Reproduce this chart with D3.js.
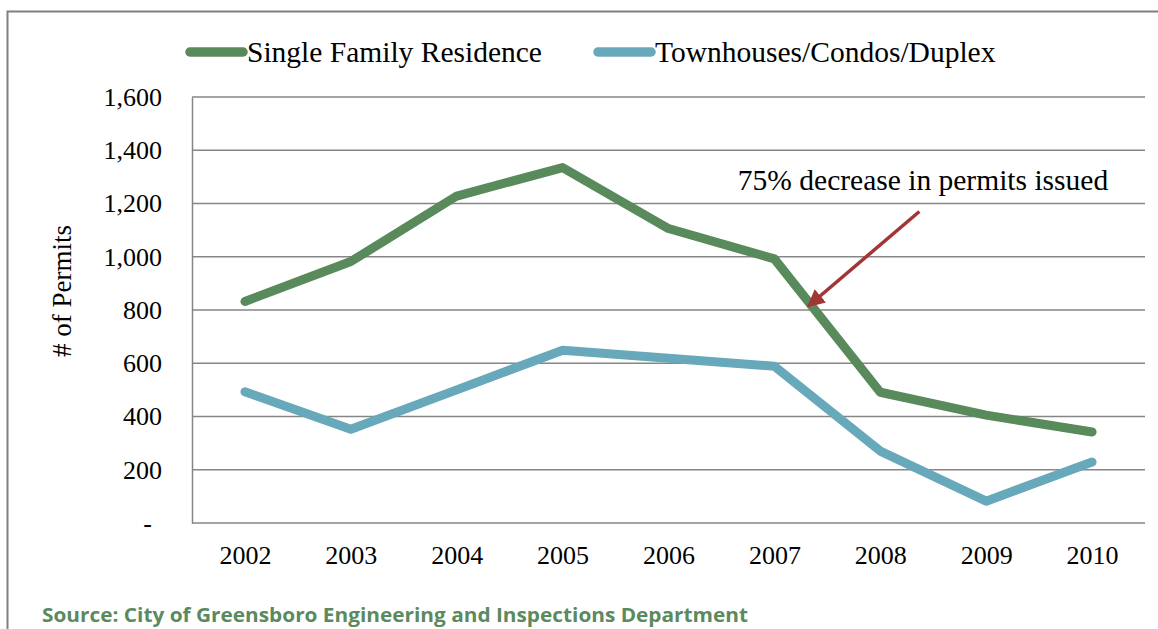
<!DOCTYPE html>
<html><head><meta charset="utf-8">
<script src="https://cdn.jsdelivr.net/npm/d3@7"></script>
<style>body{margin:0;background:#fff}svg{display:block}</style>
</head><body>
<svg id="c" width="1158" height="629"></svg>
<script>
const years = ["2002","2003","2004","2005","2006","2007","2008","2009","2010"];
const singleFamily = [832, 982, 1228, 1335, 1106, 992, 491, 405, 342];
const townhouses = [493, 352, 500, 649, 619, 589, 270, 82, 229];
const yTicks = [0, 200, 400, 600, 800, 1000, 1200, 1400, 1600];
const seriesNames = ["Single Family Residence", "Townhouses/Condos/Duplex"];
const colors = ["#588A5B", "#67A9BB"];

const svg = d3.select("#c");
const serif = "'Liberation Serif','Times New Roman',serif";
const L = 192, R = 1145, T = 97, B = 523;
const x = d3.scalePoint().domain(years).range([L, R]).padding(0.5);
const y = d3.scaleLinear().domain([0, 1600]).range([B, T]);

// outer frame
svg.append("rect").attr("x", 7.5).attr("y", 11.5).attr("width", 1170).attr("height", 640)
  .attr("fill", "none").attr("stroke", "#7f7f7f").attr("stroke-width", 2);

// gridlines
svg.append("g").selectAll("line").data(yTicks.filter(d => d > 0)).join("line")
  .attr("x1", L).attr("x2", R).attr("y1", d => y(d)).attr("y2", d => y(d))
  .attr("stroke", "#868686").attr("stroke-width", 1.5);

// axes
const yAxis = svg.append("g").attr("transform", `translate(${L},0)`)
  .call(d3.axisLeft(y).tickValues(yTicks).tickSize(0).tickPadding(30)
    .tickFormat(d => d === 0 ? "-" : d3.format(",")(d)));
yAxis.select(".domain").attr("stroke", "#868686").attr("stroke-width", 1.5);
yAxis.selectAll("text").attr("font-family", serif).attr("font-size", 26).attr("fill", "#000")
  .attr("dx", d => d === 0 ? -10 : 0);

const xAxis = svg.append("g").attr("transform", `translate(0,${B})`)
  .call(d3.axisBottom(x).tickSize(0).tickPadding(23));
xAxis.select(".domain").attr("d", `M${L},0H${R}`).attr("stroke", "#868686").attr("stroke-width", 1.5);
xAxis.selectAll("text").attr("font-family", serif).attr("font-size", 26).attr("fill", "#000");

// y title
svg.append("text").attr("transform", "translate(71,291) rotate(-90)")
  .attr("text-anchor", "middle").attr("font-family", serif).attr("font-size", 27)
  .text("# of Permits");

// lines
const line = d3.line().x((d, i) => x(years[i])).y(d => y(d));
[singleFamily, townhouses].forEach((s, k) => {
  svg.append("path").datum(s).attr("d", line).attr("fill", "none")
    .attr("stroke", colors[k]).attr("stroke-width", 9)
    .attr("stroke-linecap", "round").attr("stroke-linejoin", "round");
});

// legend
const legendX = [190, 598];
seriesNames.forEach((n, k) => {
  const g = svg.append("g").attr("transform", `translate(${legendX[k]},52)`);
  g.append("line").attr("x1", 0).attr("x2", 53).attr("stroke", colors[k])
    .attr("stroke-width", 9.5).attr("stroke-linecap", "round");
  g.append("text").attr("x", 57).attr("y", 10).attr("font-family", serif)
    .attr("font-size", 29.5).text(n);
});

// annotation
svg.append("defs").append("marker").attr("id", "ah").attr("viewBox", "0 0 10 10")
  .attr("refX", 9).attr("refY", 5).attr("markerWidth", 5).attr("markerHeight", 5)
  .attr("orient", "auto").append("path").attr("d", "M0,0L10,5L0,10z").attr("fill", "#A33537");
svg.append("line").attr("x1", x("2007") + 145).attr("y1", y(1170))
  .attr("x2", x("2007") + 34).attr("y2", y(815))
  .attr("stroke", "#A33537").attr("stroke-width", 3.5).attr("marker-end", "url(#ah)");
svg.append("text").attr("x", 923).attr("y", 190).attr("text-anchor", "middle")
  .attr("font-family", serif).attr("font-size", 29.5).text("75% decrease in permits issued");

// source
svg.append("text").attr("x", 42).attr("y", 622).attr("font-family", "'Open Sans',sans-serif")
  .attr("font-weight", "bold").attr("font-size", 19.5).attr("fill", "#5A8A5E")
  .attr("textLength", 706).attr("lengthAdjust", "spacingAndGlyphs")
  .text("Source: City of Greensboro Engineering and Inspections Department");
</script>
</body></html>
